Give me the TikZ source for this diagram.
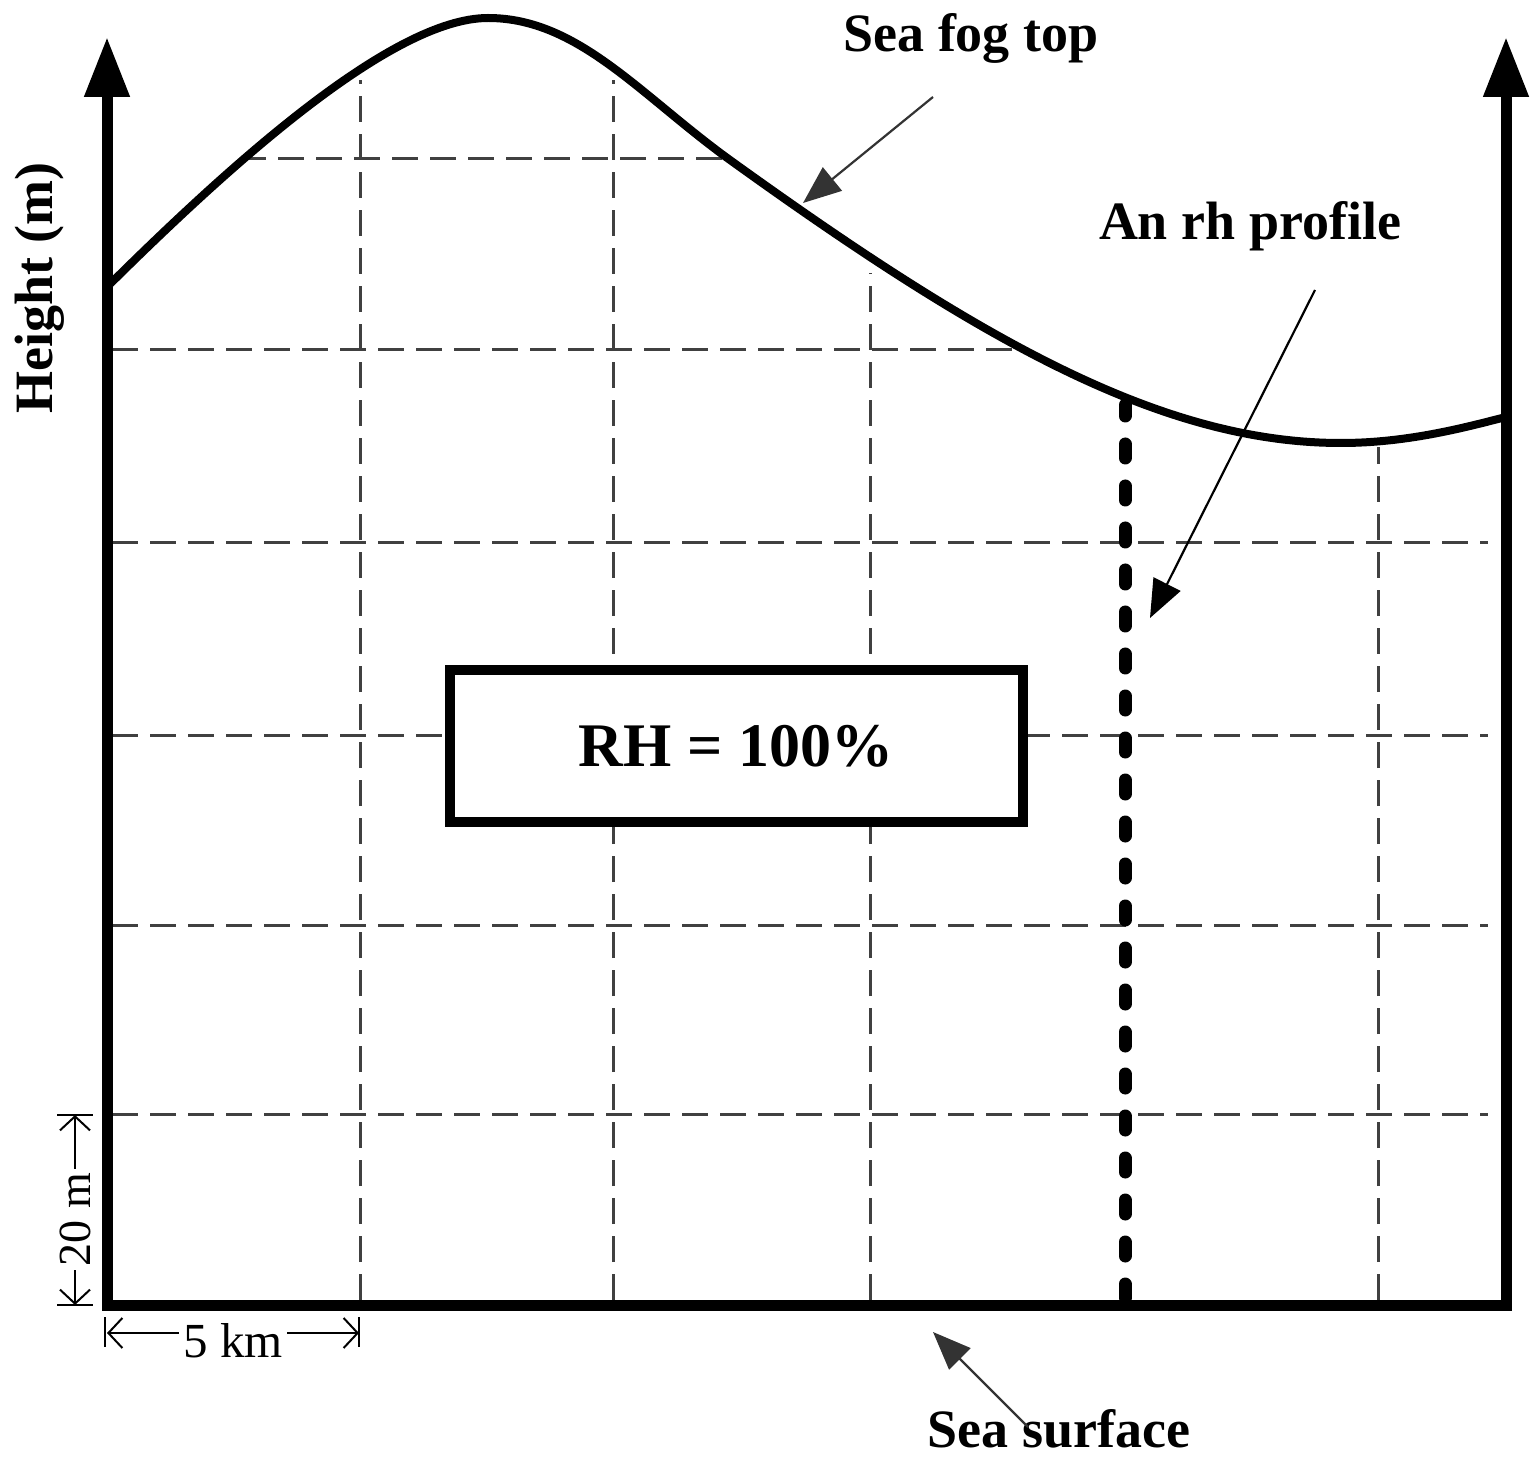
\documentclass[tikz,border=0pt]{standalone}
\usepackage{fontspec}
\setmainfont{Liberation Serif}
\usetikzlibrary{arrows.meta}
\begin{document}
\begin{tikzpicture}[x=0.5pt,y=-0.5pt,
  grid/.style={draw=black!75, line width=1.5pt, dash pattern=on 13pt off 6pt},
  axis/.style={line width=5.5pt, line join=miter},
  lbl/.style={font=\fontsize{27pt}{32pt}\selectfont\bfseries, inner sep=0pt, anchor=base},
  dimlbl/.style={font=\fontsize{24.5pt}{29pt}\selectfont, fill=white, inner sep=2pt},
  pointer/.style={line width=1.1pt, -{Triangle[length=19pt,width=15pt]}},
  dimarrow/.style={line width=1pt, {Straight Barb[length=7pt,width=15pt]}-{Straight Barb[length=7pt,width=15pt]}},
  dimbar/.style={line width=1pt},
  profile/.style={line width=6.5pt, line cap=round, dash pattern=on 7pt off 14pt},
  fogcurve/.style={line width=4pt},
]
\useasboundingbox (0,0) rectangle (1538,1465);

% grid
\foreach \x/\y in {360/80, 613/80, 870/273, 1378/447}
  \draw[grid] (\x,1300) -- (\x,\y);
\draw[grid] (240,159) -- (723,159);
\draw[grid] (112,350) -- (1013,350);
\foreach \y in {543,735,925,1114}
  \draw[grid] (112,\y) -- (1488,\y);

% RH box
\node[draw, line width=5pt, fill=white, minimum width=286.5pt, minimum height=76pt,
      font=\fontsize{31pt}{36pt}\selectfont\bfseries] (rh) at (736,746) {RH = 100\%};

% rh profile
\coordinate (profbot) at (1125,1298);
\coordinate (proftop) at (1125,405);
\draw[profile] (profbot) -- (proftop);

% sea fog top curve
\draw[fogcurve] (107,287) .. controls (230,165) and (392,18) .. (488,18)
  .. controls (578,18) and (640,95) .. (730,160)
  .. controls (980,340) and (1161,443) .. (1341,443)
  .. controls (1410,443) and (1470,426) .. (1506,417);

% axes
\coordinate (ltop) at (107,37);
\coordinate (lbot) at (107,1305);
\coordinate (rbot) at (1506,1305);
\coordinate (rtop) at (1506,37);
\draw[axis, {Triangle[length=30pt,width=21.5pt]}-{Triangle[length=30pt,width=21.5pt]}]
  (ltop) -- (lbot) -- (rbot) -- (rtop);

% labels and pointers
\node[lbl] (fogtop) at (971,52) {Sea fog top};
\coordinate (fogstart) at (933,97);
\coordinate (fogtip) at (803,203);
\draw[pointer, draw=black!80] (fogstart) -- (fogtip);

\node[lbl] (rhprof) at (1250,240) {An rh profile};
\coordinate (rhstart) at (1315,290);
\coordinate (rhtip) at (1150,618);
\draw[pointer] (rhstart) -- (rhtip);

\node[lbl] (seasurf) at (1059,1447) {Sea surface};
\coordinate (surfstart) at (1028,1427);
\coordinate (surftip) at (933,1332);
\draw[pointer, draw=black!80] (surfstart) -- (surftip);

\node[lbl, rotate=90] (height) at (52,288) {Height (m)};

% 20 m dimension
\coordinate (d20a) at (75,1305);
\coordinate (d20b) at (75,1115);
\draw[dimarrow] (d20a) -- node[dimlbl, font=\fontsize{23pt}{27pt}\selectfont, rotate=90, pos=0.45] (l20) {20 m} (d20b);
\draw[dimbar] (57,1115) -- (93,1115);
\draw[dimbar] (57,1305) -- (93,1305);

% 5 km dimension
\coordinate (d5a) at (107,1333);
\coordinate (d5b) at (359,1333);
\draw[dimarrow] (d5a) -- node[dimlbl, yshift=-4pt] (l5) {5 km} (d5b);
\draw[dimbar] (105,1317) -- (105,1347);
\draw[dimbar] (359,1317) -- (359,1347);
\end{tikzpicture}
\end{document}
